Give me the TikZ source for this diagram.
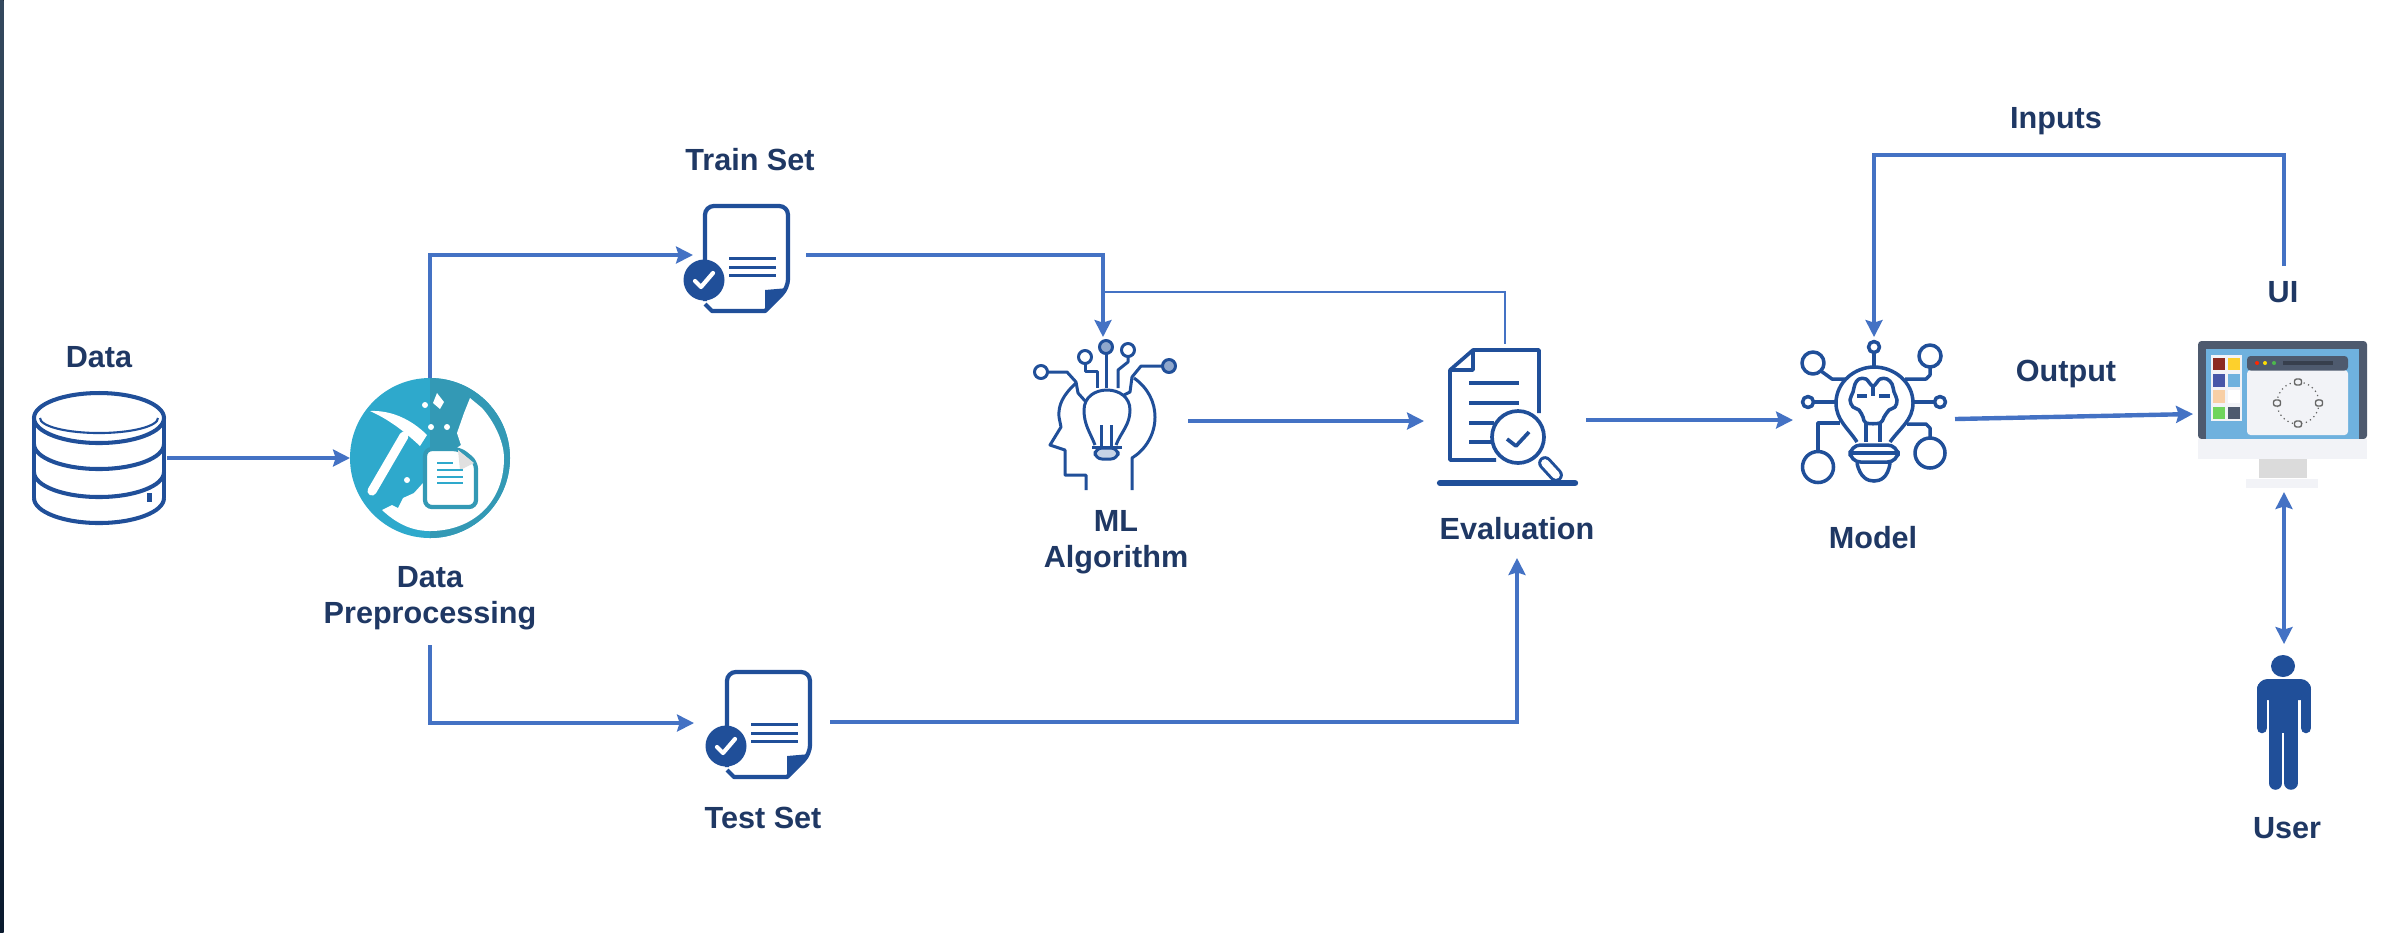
\documentclass[tikz,border=0pt]{standalone}
\usepackage{fontspec}
\setmainfont{Liberation Sans}
\usetikzlibrary{arrows.meta}
\definecolor{iconblue}{HTML}{204F99}
\definecolor{linkblue}{HTML}{4472C4}
\definecolor{textblue}{HTML}{1F3864}
\definecolor{prepteal}{HTML}{2EA9CC}
\definecolor{prepdark}{HTML}{3399B5}
\definecolor{monframe}{HTML}{4E5A6E}
\definecolor{monsky}{HTML}{6FB1DE}
\definecolor{monpale}{HTML}{F2F3F7}
\definecolor{edgetop}{HTML}{34495E}
\definecolor{edgebot}{HTML}{0A1A2E}
\definecolor{swred}{HTML}{8C2A20}
\definecolor{swyellow}{HTML}{FDD02C}
\definecolor{swindigo}{HTML}{4656A8}
\definecolor{swpeach}{HTML}{F8CFA5}
\definecolor{swgreen}{HTML}{6FD45C}
\tikzset{
  tag/.style={font=\bfseries\fontsize{8.7}{10.2}\selectfont,text=textblue,align=center,inner sep=0pt},
  link/.style={draw=linkblue,line width=1.25pt,-{Stealth[length=4.8pt,width=4.8pt,inset=.7pt]}},
  wire/.style={draw=iconblue,line width=.85pt,line join=round},
  swatch/.pic={\fill[fill=#1](0,0)rectangle(12,12.5);},
  docset/.pic={
    \draw[iconblue,line width=1.2pt,line join=round,rounded corners=2.5pt](0,95)--(0,0)--(83,0)--(83,82)[sharp corners]--(60,105)--(7,105)--(0,98);
    \fill[iconblue](60,84)--(83,82)--(60,105)--cycle;
    \foreach \ly in {52,61,69}{\draw[iconblue,line width=.85pt](24,\ly)--(71,\ly);}
    \fill[iconblue](-1,74)circle(20.5);
    \draw[white,line width=1.2pt,line cap=round,line join=round](-10,75)--(-4,81)--(8,67);
  }
}
\begin{document}
\begin{tikzpicture}[x=.01cm,y=-.01cm]
  \useasboundingbox(0,0)rectangle(2400,932);
  \fill[white](0,0)rectangle(2400,932);
  \fill[top color=edgetop,bottom color=edgebot](0,0)rectangle(3.5,932);

  % connector ends
  \coordinate(dataOut)at(167,458);
  \coordinate(prepIn)at(350,458);
  \coordinate(prepTop)at(430,378);
  \coordinate(prepBot)at(430,645);
  \coordinate(trainIn)at(693,255);
  \coordinate(testIn)at(694,723);
  \coordinate(trainOut)at(806,255);
  \coordinate(mlIn)at(1103,337);
  \coordinate(trainTap)at(1103,292);
  \coordinate(evalTop)at(1505,344);
  \coordinate(mlOut)at(1188,421);
  \coordinate(evalIn)at(1424,421);
  \coordinate(evalOut)at(1586,420);
  \coordinate(modelIn)at(1793,420);
  \coordinate(testOut)at(830,722);
  \coordinate(evalBot)at(1517,558);
  \coordinate(modelOut)at(1955,419);
  \coordinate(uiIn)at(2193,414);
  \coordinate(uiTop)at(2284,266);
  \coordinate(inputsBend)at(1874,155);
  \coordinate(modelTop)at(1874,337);
  \coordinate(uiBot)at(2284,492);
  \coordinate(userTop)at(2284,644);

  % data
  \begin{scope}[iconblue,line width=1.15pt]
    \draw(34,418)--(34,498)(164,418)--(164,498);
    \draw(99,418)ellipse(65 and 25);
    \draw(34,444)arc(180:0:65 and 25);
    \draw(34,472)arc(180:0:65 and 25);
    \draw(34,498)arc(180:0:65 and 25);
    \draw[line width=.6pt](40,418)arc(180:0:59 and 15);
    \fill(147,493)rectangle(152,502);
  \end{scope}

  % data preprocessing
  \fill[prepteal](430,458)ellipse(80 and 80);
  \begin{scope}
    \clip(430,370)rectangle(520,545);
    \fill[prepdark](430,458)ellipse(80 and 80);
  \end{scope}
  \fill[white](470,398)--(482,408)..controls(497,425)and(504,445)..(504,458)
    ..controls(504,505)and(470,531)..(430,531)..controls(410,531)and(395,522)..(382,510)
    --(392,505)--(398,508)--(403,498)--(414,493)--(423,483)--(440,480)--(440,460)
    --(461,445)--(457,433)--(464,413)--cycle;
  \filldraw[fill=white,draw=prepdark,line width=1.2pt,rounded corners=2pt](425,449)--(460,449)--(476,462)--(476,507)--(425,507)--cycle;
  \fill[black!12](458,450)--(474,463)--(460,470)--cycle;
  \draw[prepteal,line width=.8pt](437,463)--(453,463);
  \foreach \ly in {470,477,483}{\draw[prepteal,line width=.8pt](437,\ly)--(463,\ly);}
  \draw[white,line width=2.6pt,line cap=round](372,491)--(404,436);
  \fill[white](370,411)..controls(392,410)and(412,420)..(427,435)--(420,446)..controls(405,432)and(390,420)..(370,411)--cycle;
  \fill[white](437,393)--(444,402)--(440,409)--(433,403)--cycle;
  \foreach \bx/\by in {425/405,431/427,447/427,407/480}{\fill[white](\bx,\by)circle(3);}

  % train and test documents
  \pic at(705,206){docset};
  \pic at(727,672){docset};

  % ml algorithm
  \begin{scope}[wire]
    \draw(1095,445)..controls(1090,432)and(1084,425)..(1084,410)..controls(1084,397)and(1095,390)..(1107,390)
      ..controls(1119,390)and(1130,397)..(1130,410)..controls(1130,425)and(1121,432)..(1116,445);
    \draw(1101,425)--(1101,446)(1111,425)--(1111,446)(1092,447)--(1122,447);
    \filldraw[fill=iconblue!25,rounded corners=2pt](1095,448)--(1118,448)--(1118,459)--(1095,459)--cycle;
    \draw(1076,383)..controls(1063,395)and(1058,405)..(1059,417)--(1061,427)--(1050,445)--(1065,450)--(1065,475)--(1086,475)--(1086,490);
    \draw(1134,378)..controls(1148,388)and(1155,402)..(1155,417)..controls(1155,435)and(1145,450)..(1132,458)--(1132,490);
    \draw(1041,372)circle(6.5);
    \draw(1048,372)--(1067,372)--(1076,382)--(1078,393)--(1086,402);
    \draw(1085,357)circle(6.5);
    \draw(1085,364)--(1085,371)--(1097,371)--(1097,388);
    \filldraw[fill=iconblue!50](1106,347)circle(6.5);
    \draw(1106,354)--(1106,388);
    \draw(1128,350)circle(6.5);
    \draw(1128,357)--(1128,362)--(1118,370)--(1118,388);
    \filldraw[fill=iconblue!50](1169,366)circle(6.5);
    \draw(1162,366)--(1141,366)--(1132,377)--(1130,392)--(1124,395);
  \end{scope}

  % evaluation
  \begin{scope}[iconblue,line width=1.05pt,line join=round]
    \draw(1496,460)--(1450,460)--(1450,370)--(1473,350)--(1539,350)--(1539,413);
    \draw(1473,350)--(1473,370)--(1450,370);
    \draw[line width=1.2pt](1469,383)--(1519,383)(1469,403)--(1519,403);
    \draw[line width=1.2pt](1469,423)--(1494,423)(1469,442)--(1491,442);
    \draw[line width=3.9pt,line cap=round](1545,463)--(1556,475);
    \draw[white,line width=2.2pt,line cap=round](1545,463)--(1556,475);
    \draw(1518,437)circle(26);
    \draw(1507,439)--(1516,446)--(1529,432);
    \draw[line width=1.8pt,line cap=round](1440,483)--(1575,483);
  \end{scope}

  % model
  \begin{scope}[wire,line width=1pt]
    \draw(1857,442)..controls(1848,428)and(1836,420)..(1836,403)..controls(1836,382)and(1855,367)..(1874,367)
      ..controls(1894,367)and(1913,382)..(1913,403)..controls(1913,420)and(1900,428)..(1890,442);
    \draw plot[smooth cycle,tension=.6]coordinates{(1873,386)(1866,379)(1859,379)(1855,384)(1853,392)(1850,400)(1853,407)(1859,410)(1863,417)(1866,423)(1880,423)(1884,417)(1889,410)(1895,407)(1897,400)(1894,392)(1892,384)(1887,379)(1880,379)};
    \draw(1866,423)--(1866,442)(1880,423)--(1880,442)(1873,386)--(1873,396)(1857,396)--(1867,396)(1879,396)--(1890,396);
    \draw[rounded corners=3pt](1850,445)rectangle(1898,462);
    \draw(1851,453)--(1897,453);
    \draw(1857,463)..controls(1860,478)and(1868,481)..(1874,481)..controls(1880,481)and(1888,478)..(1890,463);
    \draw(1874,347)circle(5.5);
    \draw(1874,353)--(1874,366);
    \draw(1813,363)circle(11);
    \draw(1821,371)--(1832,379)--(1846,379);
    \draw(1930,356)circle(11);
    \draw(1930,367)--(1930,375)--(1926,379)--(1905,379);
    \draw(1808,402)circle(5.5);
    \draw(1814,402)--(1836,402);
    \draw(1940,402)circle(5.5);
    \draw(1913,402)--(1934,402);
    \draw(1818,467)circle(15.5);
    \draw(1818,451)--(1818,423)--(1840,423);
    \draw(1930,453)circle(15);
    \draw(1930,438)--(1930,428)--(1926,424)--(1907,424);
  \end{scope}

  % ui monitor
  \fill[monframe,rounded corners=1pt](2198,439)--(2198,341)--(2367,341)--(2367,439)--cycle;
  \fill[monsky](2206,349)rectangle(2359,439);
  \fill[monpale](2198,439)rectangle(2367,459);
  \fill[black!14](2259,459)rectangle(2307,478);
  \fill[monpale](2246,479)rectangle(2318,488);
  \fill[monpale](2211,355)rectangle(2242,421);
  \pic at(2213,357.5){swatch=swred};
  \pic at(2228,357.5){swatch=swyellow};
  \pic at(2213,374){swatch=swindigo};
  \pic at(2228,374){swatch=monsky};
  \pic at(2213,390){swatch=swpeach};
  \pic at(2228,390){swatch=white};
  \pic at(2213,406.5){swatch=swgreen};
  \pic at(2228,406.5){swatch=monframe};
  \fill[monpale,rounded corners=1pt](2247,370)rectangle(2348,435);
  \fill[monframe,rounded corners=1pt](2247,356)rectangle(2348,370.5);
  \fill[red!70!orange](2257,363)circle(2);
  \fill[yellow!80!orange](2265,363)circle(2);
  \fill[green!60!black!70!white](2274,363)circle(2);
  \draw[monframe!70!black,line width=1.1pt](2283,363)--(2333,363);
  \draw[black!60,line width=.35pt,densely dotted](2298,403)circle(21);
  \foreach \rx/\ry in {2298/382,2298/424,2277/403,2319/403}{
    \filldraw[fill=monpale,draw=black!60,line width=.4pt,rounded corners=.6pt](\rx-3.5,\ry-3)rectangle(\rx+3.5,\ry+3);}

  % user
  \fill[iconblue](2283,666)ellipse(12 and 11);
  \fill[iconblue,rounded corners=3pt](2257,700)--(2257,679)--(2311,679)--(2311,700)--cycle;
  \fill[iconblue](2269,690)rectangle(2298,733);
  \draw[iconblue,line width=3pt,line cap=round](2262,688)--(2262,728)(2306,688)--(2306,728);
  \draw[iconblue,line width=3.85pt,line cap=round](2275.5,730)--(2275.5,783)(2291,730)--(2291,783);

  % connectors
  \draw[link](dataOut)--(prepIn);
  \draw[link](prepTop)|-(trainIn);
  \draw[link](prepBot)|-(testIn);
  \draw[link](trainOut)-|(mlIn);
  \draw[draw=linkblue,line width=.8pt](trainTap)-|(evalTop);
  \draw[link](mlOut)--(evalIn);
  \draw[link](evalOut)--(modelIn);
  \draw[link](testOut)-|(evalBot);
  \draw[link](modelOut)--(uiIn);
  \draw[link](uiTop)|-(inputsBend)--(modelTop);
  \draw[link,{Stealth[length=4.8pt,width=4.8pt,inset=.7pt]}-{Stealth[length=4.8pt,width=4.8pt,inset=.7pt]}](uiBot)--(userTop);

  % labels
  \node[tag](dataTag)at(99,357){Data};
  \node[tag](prepTag)at(430,598){Data\\Preprocessing};
  \node[tag](trainTag)at(750,160){Train Set};
  \node[tag](testTag)at(763,818){Test Set};
  \node[tag](mlTag)at(1116,542){ML\\Algorithm};
  \node[tag](evalTag)at(1517,529){Evaluation};
  \node[tag](modelTag)at(1873,538){Model};
  \node[tag](inputsTag)at(2056,121){Inputs};
  \node[tag](outputTag)at(2066,374){Output};
  \node[tag](uiTag)at(2283,292){UI};
  \node[tag](userTag)at(2287,828){User};
\end{tikzpicture}
\end{document}
